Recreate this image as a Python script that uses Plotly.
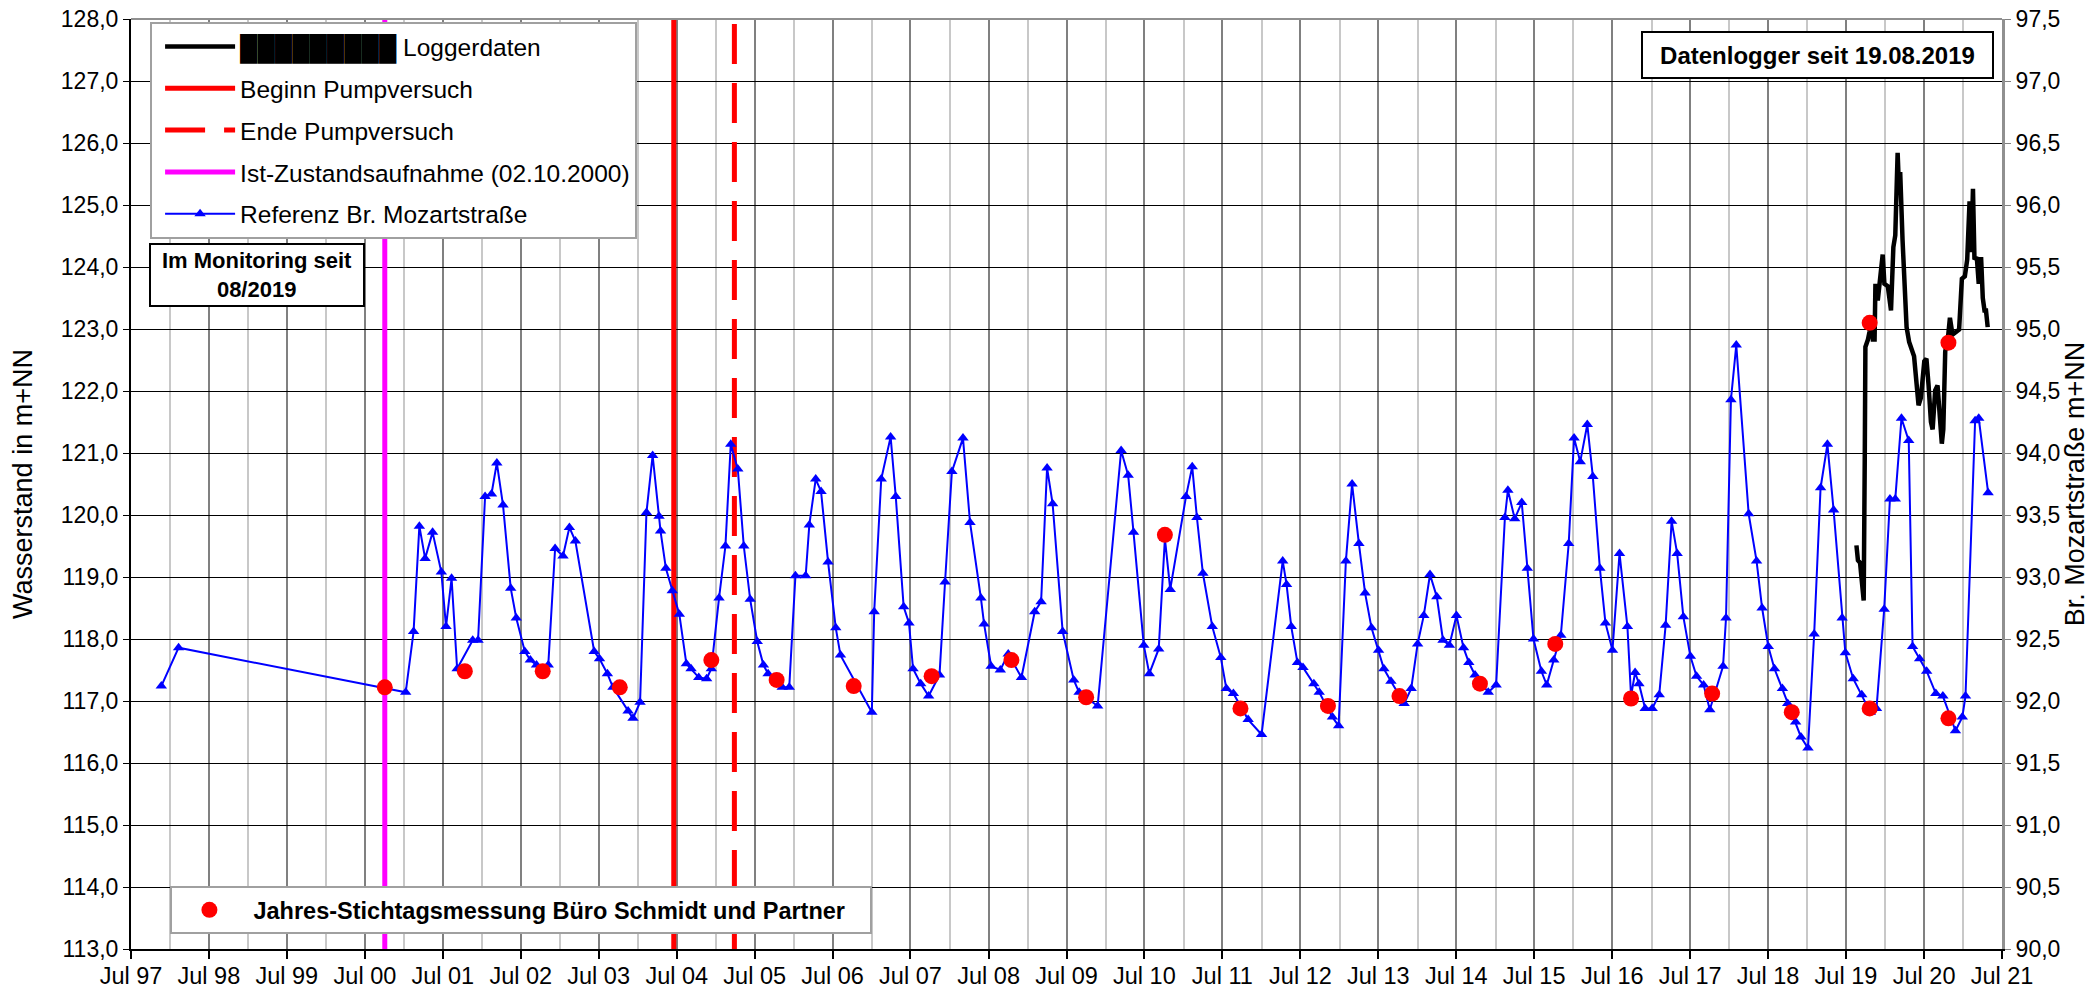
import plotly.graph_objects as go

# Referenz Br. Mozartstraße (rechte Achse, m+NN)
ref_dates = [
    "1997-11-20", "1998-02-09", "2001-01-08", "2001-02-14", "2001-03-13", "2001-04-09",
    "2001-05-14", "2001-06-24", "2001-07-16", "2001-08-11", "2001-09-06", "2001-11-18",
    "2001-12-13", "2002-01-15", "2002-02-14", "2002-03-11", "2002-04-09", "2002-05-15",
    "2002-06-10", "2002-07-20", "2002-08-15", "2002-09-13", "2002-11-07", "2002-12-09",
    "2003-01-15", "2003-02-14", "2003-03-14", "2003-06-10", "2003-07-05", "2003-08-11",
    "2003-09-06", "2003-11-16", "2003-12-09", "2004-01-11", "2004-02-10", "2004-03-10",
    "2004-04-09", "2004-04-16", "2004-05-11", "2004-06-10", "2004-07-13", "2004-08-15",
    "2004-09-06", "2004-10-12", "2004-11-18", "2004-12-10", "2005-01-15", "2005-02-14",
    "2005-03-11", "2005-04-13", "2005-05-11", "2005-06-10", "2005-07-13", "2005-08-11",
    "2005-09-02", "2005-11-07", "2005-12-10", "2006-01-08", "2006-02-25", "2006-03-14",
    "2006-04-13", "2006-05-08", "2006-06-10", "2006-07-16", "2006-08-07", "2007-01-01",
    "2007-01-12", "2007-02-14", "2007-03-30", "2007-04-23", "2007-05-30", "2007-06-24",
    "2007-07-13", "2007-08-18", "2007-09-24", "2007-11-14", "2007-12-10", "2008-01-11",
    "2008-03-03", "2008-04-05", "2008-05-26", "2008-06-10", "2008-07-13", "2008-08-25",
    "2008-10-01", "2008-12-02", "2009-02-02", "2009-03-04", "2009-04-01", "2009-04-27",
    "2009-06-13", "2009-08-04", "2009-08-29", "2009-11-24", "2010-03-14", "2010-04-16",
    "2010-05-11", "2010-06-28", "2010-07-24", "2010-09-06", "2010-10-05", "2010-10-30",
    "2011-01-12", "2011-02-10", "2011-03-04", "2011-04-01", "2011-05-15", "2011-06-24",
    "2011-07-20", "2011-08-22", "2011-10-30", "2012-01-01", "2012-04-09", "2012-04-27",
    "2012-05-19", "2012-06-17", "2012-07-13", "2012-09-02", "2012-09-27", "2012-11-28",
    "2012-12-27", "2013-01-30", "2013-02-28", "2013-04-01", "2013-04-30", "2013-05-30",
    "2013-07-02", "2013-07-27", "2013-08-29", "2013-10-30", "2013-12-02", "2014-01-01",
    "2014-01-30", "2014-02-28", "2014-04-01", "2014-04-30", "2014-05-30", "2014-07-02",
    "2014-08-04", "2014-08-29", "2014-09-27", "2014-11-28", "2015-01-04", "2015-02-14",
    "2015-02-28", "2015-04-01", "2015-05-04", "2015-05-30", "2015-06-28", "2015-08-04",
    "2015-08-29", "2015-10-01", "2015-11-03", "2015-12-10", "2016-01-04", "2016-02-02",
    "2016-03-06", "2016-04-01", "2016-05-04", "2016-05-30", "2016-07-02", "2016-08-04",
    "2016-09-10", "2016-09-27", "2016-10-16", "2016-11-03", "2016-12-02", "2017-01-04",
    "2017-02-06", "2017-03-08", "2017-04-05", "2017-05-01", "2017-05-30", "2017-07-02",
    "2017-07-31", "2017-09-02", "2017-10-01", "2017-12-02", "2017-12-16", "2018-01-08",
    "2018-02-02", "2018-04-01", "2018-05-08", "2018-06-03", "2018-07-02", "2018-07-31",
    "2018-09-06", "2018-10-01", "2018-11-07", "2018-12-02", "2019-01-04", "2019-02-02",
    "2019-03-04", "2019-04-05", "2019-05-04", "2019-06-13", "2019-06-28", "2019-08-04",
    "2019-09-13", "2019-10-23", "2019-11-21", "2019-12-27", "2020-01-23", "2020-02-17",
    "2020-03-17", "2020-04-20", "2020-05-08", "2020-06-10", "2020-07-13", "2020-08-25",
    "2020-09-27", "2020-11-25", "2020-12-27", "2021-01-11", "2021-02-25", "2021-03-14",
    "2021-04-27",
]
ref_values = [
    92.12, 92.43, 92.07, 92.56, 93.41, 93.15,
    93.36, 93.04, 92.60, 92.99, 92.26, 92.49,
    92.49, 93.65, 93.67, 93.92, 93.58, 92.91,
    92.67, 92.40, 92.33, 92.29, 92.29, 93.23,
    93.17, 93.40, 93.29, 92.40, 92.34, 92.22,
    92.11, 91.92, 91.86, 91.99, 93.52, 93.98,
    93.49, 93.37, 93.07, 92.89, 92.70, 92.30,
    92.26, 92.19, 92.18, 92.26, 92.83, 93.25,
    94.07, 93.87, 93.25, 92.82, 92.48, 92.29,
    92.22, 92.11, 92.11, 93.01, 93.01, 93.42,
    93.79, 93.69, 93.12, 92.59, 92.37, 91.91,
    92.72, 93.79, 94.13, 93.65, 92.76, 92.63,
    92.26, 92.14, 92.04, 92.21, 92.96, 93.85,
    94.12, 93.44, 92.83, 92.62, 92.28, 92.25,
    92.38, 92.19, 92.72, 92.80, 93.88, 93.59,
    92.56, 92.17, 92.07, 91.96, 94.02, 93.82,
    93.36, 92.45, 92.22, 92.42, 93.31, 92.90,
    93.65, 93.89, 93.48, 93.03, 92.60, 92.35,
    92.10, 92.06, 91.85, 91.73, 93.13, 92.94,
    92.60, 92.31, 92.27, 92.14, 92.07, 91.87,
    91.80, 93.13, 93.75, 93.27, 92.87, 92.59,
    92.41, 92.26, 92.16, 91.98, 92.10, 92.46,
    92.69, 93.02, 92.84, 92.49, 92.45, 92.69,
    92.43, 92.31, 92.21, 92.07, 92.13, 93.48,
    93.70, 93.47, 93.60, 93.07, 92.50, 92.24,
    92.13, 92.33, 92.53, 93.27, 94.12, 93.93,
    94.23, 93.81, 93.07, 92.63, 92.41, 93.19,
    92.60, 92.04, 92.23, 92.14, 91.94, 91.94,
    92.05, 92.61, 93.45, 93.19, 92.68, 92.36,
    92.20, 92.13, 91.93, 92.28, 92.67, 94.43,
    94.87, 93.51, 93.13, 92.75, 92.44, 92.26,
    92.10, 91.98, 91.83, 91.71, 91.62, 92.54,
    93.72, 94.07, 93.54, 92.67, 92.39, 92.18,
    92.05, 91.91, 91.94, 92.74, 93.63, 93.63,
    94.28, 94.10, 92.44, 92.34, 92.24, 92.06,
    92.04, 91.76, 91.87, 92.04, 94.26, 94.28,
    93.68,
]

# Jahres-Stichtagsmessung (rechte Achse)
stichtag_dates = [
    "2000-10-02", "2001-10-12", "2002-10-12", "2003-10-08", "2004-12-10", "2005-10-12",
    "2006-10-08", "2007-10-08", "2008-10-16", "2009-10-01", "2010-10-05", "2011-09-24",
    "2012-11-07", "2013-10-08", "2014-10-20", "2015-10-08", "2016-09-27", "2017-10-12",
    "2018-10-20", "2019-10-20", "2020-10-23", "2019-10-20", "2020-10-23",
]
stichtag_values = [
    92.11, 92.24, 92.24, 92.11, 92.33, 92.17,
    92.12, 92.20, 92.33, 92.03, 93.34, 91.94,
    91.96, 92.04, 92.14, 92.46, 92.02, 92.06,
    91.91, 91.94, 91.86, 95.05, 94.89,
]

# Datenlogger (linke Achse, m+NN)
logger_dates = [
    "2019-08-19", "2019-08-26", "2019-09-05", "2019-09-15", "2019-09-22", "2019-09-27",
    "2019-09-30", "2019-10-12", "2019-10-19", "2019-10-27", "2019-11-04", "2019-11-12",
    "2019-11-16", "2019-11-27", "2019-12-05", "2019-12-12", "2019-12-20", "2019-12-28",
    "2020-01-13", "2020-01-28", "2020-02-08", "2020-02-17", "2020-02-23", "2020-02-28",
    "2020-03-06", "2020-03-11", "2020-03-22", "2020-03-30", "2020-04-10", "2020-04-22",
    "2020-05-15", "2020-06-05", "2020-06-16", "2020-07-02", "2020-07-12", "2020-07-22",
    "2020-08-02", "2020-08-10", "2020-08-22", "2020-09-02", "2020-09-10", "2020-09-22",
    "2020-09-29", "2020-10-08", "2020-10-19", "2020-10-30", "2020-11-11", "2020-11-27",
    "2020-12-12", "2020-12-25", "2021-01-08", "2021-01-19", "2021-01-30", "2021-02-07",
    "2021-02-15", "2021-02-22", "2021-03-05", "2021-03-14", "2021-03-25", "2021-04-02",
    "2021-04-10", "2021-04-17", "2021-04-25",
]
logger_values = [
    119.51, 119.27, 119.23, 118.88, 118.62, 120.91,
    122.71, 122.83, 122.95, 123.22, 122.83, 122.83,
    123.73, 123.46, 123.69, 123.85, 124.20, 123.73,
    123.69, 123.30, 124.32, 124.51, 125.30, 125.84,
    125.22, 125.53, 124.44, 123.73, 123.03, 122.79,
    122.56, 121.77, 121.89, 122.48, 122.52, 122.09,
    121.50, 121.38, 122.01, 122.09, 121.70, 121.15,
    121.38, 122.64, 122.79, 123.18, 122.91, 122.95,
    122.99, 123.81, 123.85, 124.12, 125.06, 124.24,
    125.26, 124.12, 124.16, 123.73, 124.16, 123.50,
    123.30, 123.30, 123.03,
]

ist_zustand = "2000-10-02"
pump_beginn = "2004-06-17"
pump_ende = "2005-03-28"
left_range = [113, 128]
right_range = [90, 97.5]

fig = go.Figure()

fig.add_trace(go.Scatter(
    x=[ist_zustand, ist_zustand], y=left_range, mode="lines",
    line=dict(color="#ff00ff", width=5),
    name="Ist-Zustandsaufnahme (02.10.2000)", legendrank=4, legendgroup="c"))
fig.add_trace(go.Scatter(
    x=[pump_beginn, pump_beginn], y=left_range, mode="lines",
    line=dict(color="#ff0000", width=5),
    name="Beginn Pumpversuch", legendrank=2, legendgroup="a"))
fig.add_trace(go.Scatter(
    x=[pump_ende, pump_ende], y=left_range, mode="lines",
    line=dict(color="#ff0000", width=5, dash="40px,19px"),
    name="Ende Pumpversuch", legendrank=3, legendgroup="b"))
fig.add_trace(go.Scatter(
    x=logger_dates, y=logger_values, mode="lines",
    line=dict(color="black", width=4.5),
    name="\u2588" * 9 + " Loggerdaten", legendrank=1, legendgroup="l"))

fig.add_trace(go.Scatter(
    x=ref_dates, y=ref_values, yaxis="y2", mode="lines+markers",
    line=dict(color="#0000ff", width=2),
    marker=dict(symbol="triangle-up", size=10, color="#0000ff"),
    name="Referenz Br. Mozartstraße", legendrank=5, legendgroup="r"))
fig.add_trace(go.Scatter(
    x=stichtag_dates, y=stichtag_values, yaxis="y2", mode="markers",
    marker=dict(symbol="circle", size=16, color="#ff0000"),
    name="\u00a0<b>Jahres-Stichtagsmessung Büro Schmidt und Partner</b>\u00a0\u00a0\u00a0",
    legend="legend2"))

fig.update_layout(
    width=2096, height=991,
    margin=dict(l=131, r=94, t=19, b=42),
    paper_bgcolor="white", plot_bgcolor="white",
    font=dict(family="Liberation Sans, Arial", size=22, color="black"),
    separators=",.",
    showlegend=True,
    legend=dict(x=0.0102, y=0.9968, xanchor="left", yanchor="top",
                bgcolor="white", bordercolor="#a0a0a0", borderwidth=2,
                font=dict(size=24.5), itemwidth=70, tracegroupgap=7, indentation=8),
    legend2=dict(x=0.0208, y=0.0677, xanchor="left", yanchor="top",
                 bgcolor="white", bordercolor="#a0a0a0", borderwidth=2,
                 font=dict(size=23.5), itemwidth=65),
    annotations=[
        dict(xref="paper", yref="paper", x=0.0671, y=0.7247,
             xanchor="center", yanchor="middle",
             text="<b>Im Monitoring seit<br>08/2019</b>", showarrow=False,
             font=dict(size=22), bgcolor="white", bordercolor="black",
             borderwidth=2, borderpad=2, width=208, height=56),
        dict(xref="paper", yref="paper", x=0.9014, y=0.961,
             xanchor="center", yanchor="middle",
             text="<b>Datenlogger seit 19.08.2019</b>", showarrow=False,
             font=dict(size=24), bgcolor="white", bordercolor="black",
             borderwidth=2, borderpad=2, width=345, height=40),
    ],
    shapes=[
        dict(type="line", xref="paper", yref="paper", x0=0, x1=1, y0=1, y1=1,
             line=dict(color="#909090", width=2)),
    ],
)

fig.update_xaxes(
    type="date", range=["1997-07-01", "2021-07-01"], automargin=False,
    tick0="1997-07-01", dtick="M12", tickformat="%b %y",
    ticks="outside", ticklen=8, tickwidth=1.5, tickcolor="black",
    showline=True, linecolor="black", linewidth=2,
    showgrid=True, gridcolor="#808080", gridwidth=2,
    minor=dict(tick0="1998-01-01", dtick="M12", showgrid=True,
               gridcolor="#c8c8c8", gridwidth=2),
    tickfont=dict(size=23.5), ticklabelstandoff=-3,
)
fig.update_layout(
    yaxis=dict(
        range=left_range, dtick=1, tickformat=".1f", automargin=False,
        ticks="outside", ticklen=6, tickcolor="black",
        showline=True, linecolor="black", linewidth=2,
        showgrid=True, gridcolor="black", gridwidth=1, zeroline=False,
        title=dict(text="Wasserstand in m+NN", font=dict(size=27), standoff=20),
        tickfont=dict(size=23),
    ),
    yaxis2=dict(
        range=right_range, dtick=0.5, tickformat=".1f", overlaying="y", side="right",
        automargin=False,
        ticks="outside", ticklen=6, tickcolor="#808080",
        showline=True, linecolor="#909090", linewidth=3,
        showgrid=False, zeroline=False,
        title=dict(text="Br. Mozartstraße m+NN", font=dict(size=27), standoff=1),
        tickfont=dict(size=23),
    ),
)

# the page body has a default 8px margin; remove it so the figure fills the window
fig.write_html("out.html", config={"displayModeBar": False},
               post_script="document.body.style.margin='0';")
